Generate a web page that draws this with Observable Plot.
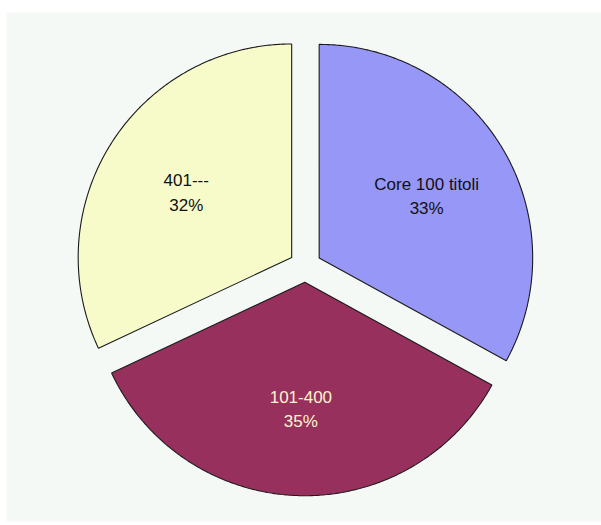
<!DOCTYPE html>
<html>
<head>
<meta charset="utf-8">
<script src="https://cdn.jsdelivr.net/npm/d3@7"></script>
<script src="https://cdn.jsdelivr.net/npm/@observablehq/plot@0.6"></script>
<style>
  html, body { margin: 0; padding: 0; background: #ffffff; }
  svg { display: block; }
</style>
</head>
<body>
<div id="chart"></div>
<script>
// ---- data ----
const categories = ["Core 100 titoli", "101-400", "401---"];
const values = [33, 35, 32];
const percentLabels = ["33%", "35%", "32%"];

// ---- styling / layout constants ----
const sliceColors = ["#9797F7", "#98305E", "#F7FBCA"];
const textColors = ["#111111", "#FFF4CC", "#111111"];
const W = 601, H = 525;
const R = 213.5;              // pie radius in px
const CX = 304.8, CY = 265.6; // pie centre in px
const EXPLODE = 0.0755;       // explode distance as fraction of radius
const LABEL_K = 0.585;        // label distance as fraction of radius

const arcs = d3.pie().sort(null).value(d => d)(values);
const pts = [];
const lbls = [];
arcs.forEach((a, i) => {
  const mid = (a.startAngle + a.endAngle) / 2;
  const ox = EXPLODE * Math.sin(mid), oy = EXPLODE * Math.cos(mid);
  const cat = categories[i];
  pts.push({cat, i, x: ox, y: oy});
  const n = Math.ceil((a.endAngle - a.startAngle) / (Math.PI / 360));
  for (let k = 0; k <= n; k++) {
    const t = a.startAngle + (a.endAngle - a.startAngle) * k / n;
    pts.push({cat, i, x: ox + Math.sin(t), y: oy + Math.cos(t)});
  }
  pts.push({cat, i, x: ox, y: oy});
  lbls.push({cat, i, x: ox + LABEL_K * Math.sin(mid), y: oy + LABEL_K * Math.cos(mid),
             text: cat + "\n" + percentLabels[i]});
});

const chart = Plot.plot({
  width: W,
  height: H,
  margin: 0,
  x: {domain: [-CX / R, (W - CX) / R], axis: null},
  y: {domain: [(CY - H) / R, CY / R], axis: null},
  color: {type: "identity"},
  style: {background: "#ffffff", fontFamily: "'Liberation Sans', Arial, sans-serif"},
  marks: [
    Plot.frame({fill: "#F5F9F6", stroke: null, insetLeft: 6, insetTop: 12, insetBottom: 4}),
    Plot.line(pts, {x: "x", y: "y", z: "cat", fill: d => sliceColors[d.i], stroke: "#1a1a1a",
                    strokeWidth: 1.1, strokeLinejoin: "miter", curve: "linear"}),
    Plot.text(lbls, {x: "x", y: "y", text: "text", fill: d => textColors[d.i],
                     fontSize: 17, lineHeight: 1.44})
  ]
});
document.getElementById("chart").appendChild(chart);
</script>
</body>
</html>
